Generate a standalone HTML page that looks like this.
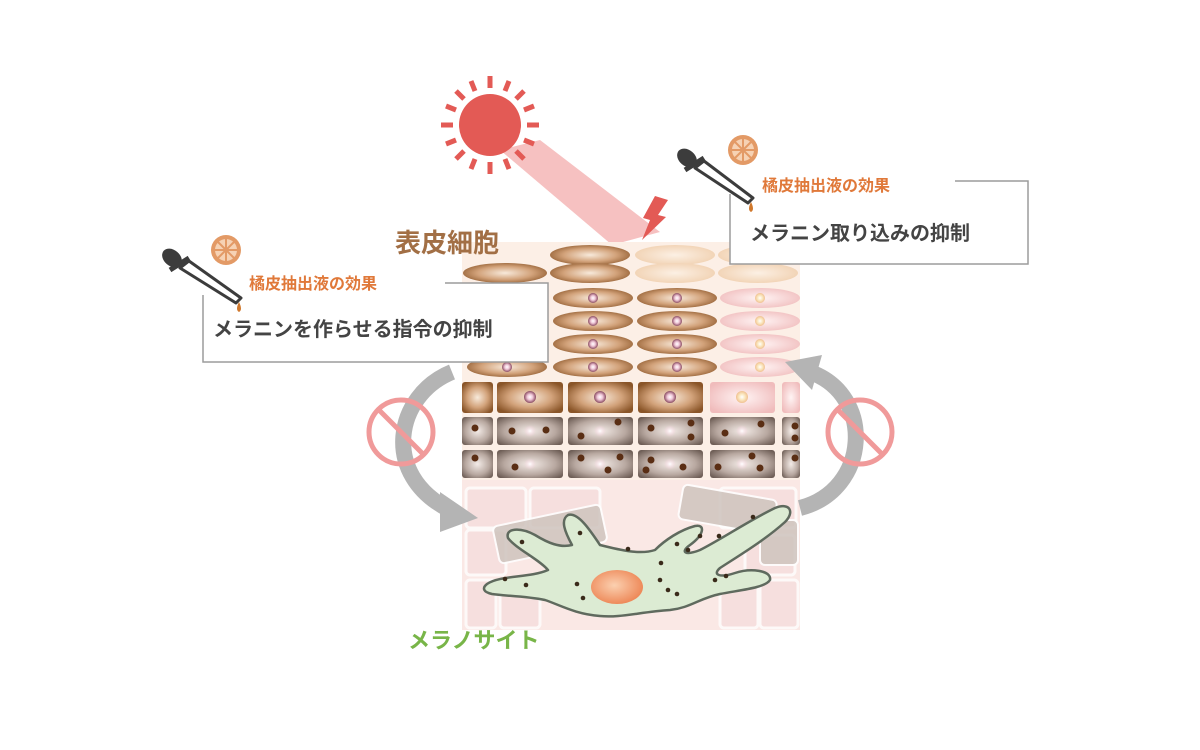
<!DOCTYPE html>
<html><head><meta charset="utf-8"><style>
html,body{margin:0;padding:0;background:#fff;}
svg{display:block;}
text{font-family:"Liberation Sans","Noto Sans CJK JP",sans-serif;font-weight:bold;}
</style></head><body>
<svg width="1200" height="750" viewBox="0 0 1200 750" xmlns="http://www.w3.org/2000/svg">
<defs>
<radialGradient id="br" cx="50%" cy="50%" r="60%"><stop offset="0" stop-color="#f8eadb"/><stop offset="0.55" stop-color="#d2a27a"/><stop offset="1" stop-color="#8a5528"/></radialGradient>
<radialGradient id="lt" cx="50%" cy="50%" r="60%"><stop offset="0" stop-color="#fcf0e4"/><stop offset="1" stop-color="#f0cfae"/></radialGradient>
<radialGradient id="pk" cx="50%" cy="50%" r="60%"><stop offset="0" stop-color="#fff4f4"/><stop offset="1" stop-color="#f0bcbc"/></radialGradient>
<radialGradient id="gr" cx="50%" cy="50%" r="65%"><stop offset="0" stop-color="#f4ece8"/><stop offset="0.6" stop-color="#b8a8a0"/><stop offset="1" stop-color="#6e5e56"/></radialGradient>
<radialGradient id="nu" cx="50%" cy="50%" r="50%"><stop offset="0" stop-color="#fff"/><stop offset="0.45" stop-color="#f0c8d8"/><stop offset="1" stop-color="#8a4a60"/></radialGradient>
<radialGradient id="nuy" cx="50%" cy="50%" r="50%"><stop offset="0" stop-color="#fff"/><stop offset="0.5" stop-color="#fbe8c0"/><stop offset="1" stop-color="#f0c090"/></radialGradient>
<radialGradient id="pd" cx="50%" cy="50%" r="50%"><stop offset="0" stop-color="#fff"/><stop offset="1" stop-color="#f6c8d8" stop-opacity="0"/></radialGradient>
<radialGradient id="on" cx="45%" cy="45%" r="55%"><stop offset="0" stop-color="#fbd0b0"/><stop offset="1" stop-color="#ee8a5a"/></radialGradient>
</defs>

<!-- sun -->
<g fill="#e35a55">
<polygon points="500,150 540,140 660,232 612,245" fill="#f4b6b6" opacity="0.85"/>
<circle cx="490" cy="125" r="31"/>
<g stroke="#e35a55" stroke-width="5">
<line x1="490" y1="76" x2="490" y2="88"/><line x1="490" y1="162" x2="490" y2="174"/>
<line x1="441" y1="125" x2="453" y2="125"/><line x1="527" y1="125" x2="539" y2="125"/>
<line x1="456" y1="91" x2="464" y2="99"/><line x1="516" y1="151" x2="524" y2="159"/>
<line x1="524" y1="91" x2="516" y2="99"/><line x1="464" y1="151" x2="456" y2="159"/>
<line x1="471" y1="81" x2="475" y2="91"/><line x1="509" y1="81" x2="505" y2="91"/>
<line x1="446" y1="106" x2="456" y2="110"/><line x1="534" y1="106" x2="524" y2="110"/>
<line x1="446" y1="144" x2="456" y2="140"/><line x1="534" y1="144" x2="524" y2="140"/>
<line x1="471" y1="169" x2="475" y2="159"/><line x1="509" y1="169" x2="505" y2="159"/>
</g>
<polygon points="655,196 668,200 658,215 666,217 642,240 650,220 643,218"/>
</g>

<!-- skin block -->
<rect x="462" y="242" width="338" height="388" fill="#fcefe6"/>
<rect x="462" y="480" width="338" height="150" fill="#f9e6e4" opacity="0.7"/>
<g fill="#f5dcdc" stroke="#fff" stroke-width="3" opacity="0.75">
<rect x="466" y="488" width="60" height="40" rx="4"/><rect x="530" y="488" width="70" height="40" rx="4"/>
<rect x="720" y="488" width="76" height="40" rx="4"/>
<rect x="466" y="530" width="40" height="45" rx="4"/>
<rect x="466" y="580" width="30" height="48" rx="4"/><rect x="500" y="585" width="40" height="43" rx="4"/>
<rect x="720" y="580" width="38" height="48" rx="4"/><rect x="760" y="580" width="38" height="48" rx="4"/>
<rect x="745" y="535" width="50" height="40" rx="4"/>
</g>
<g fill="#cfc4be" stroke="#fff" stroke-width="2" opacity="0.85">
<rect x="495" y="515" width="110" height="38" rx="5" transform="rotate(-12 550 534)"/>
<rect x="680" y="492" width="95" height="35" rx="5" transform="rotate(10 727 510)"/>
<rect x="760" y="520" width="38" height="45" rx="5"/>
</g>

<!-- top flat rows -->
<ellipse cx="590" cy="255" rx="40" ry="10" fill="url(#br)"/>
<ellipse cx="675" cy="255" rx="40" ry="10" fill="url(#lt)"/>
<ellipse cx="758" cy="255" rx="40" ry="10" fill="url(#lt)"/>
<ellipse cx="505" cy="273" rx="42" ry="10" fill="url(#br)"/>
<ellipse cx="590" cy="273" rx="40" ry="10" fill="url(#br)"/>
<ellipse cx="675" cy="273" rx="40" ry="10" fill="url(#lt)"/>
<ellipse cx="758" cy="273" rx="40" ry="10" fill="url(#lt)"/>
<g>
<ellipse cx="507" cy="298" rx="40" ry="10" fill="url(#br)"/><ellipse cx="593" cy="298" rx="40" ry="10" fill="url(#br)"/><ellipse cx="677" cy="298" rx="40" ry="10" fill="url(#br)"/><ellipse cx="760" cy="298" rx="40" ry="10" fill="url(#pk)"/>
<ellipse cx="507" cy="321" rx="40" ry="10" fill="url(#br)"/><ellipse cx="593" cy="321" rx="40" ry="10" fill="url(#br)"/><ellipse cx="677" cy="321" rx="40" ry="10" fill="url(#br)"/><ellipse cx="760" cy="321" rx="40" ry="10" fill="url(#pk)"/>
<ellipse cx="507" cy="344" rx="40" ry="10" fill="url(#br)"/><ellipse cx="593" cy="344" rx="40" ry="10" fill="url(#br)"/><ellipse cx="677" cy="344" rx="40" ry="10" fill="url(#br)"/><ellipse cx="760" cy="344" rx="40" ry="10" fill="url(#pk)"/>
<ellipse cx="507" cy="367" rx="40" ry="10" fill="url(#br)"/><ellipse cx="593" cy="367" rx="40" ry="10" fill="url(#br)"/><ellipse cx="677" cy="367" rx="40" ry="10" fill="url(#br)"/><ellipse cx="760" cy="367" rx="40" ry="10" fill="url(#pk)"/>
</g>
<g fill="url(#nu)">
<circle cx="593" cy="298" r="5"/><circle cx="677" cy="298" r="5"/><circle cx="593" cy="321" r="5"/><circle cx="677" cy="321" r="5"/>
<circle cx="593" cy="344" r="5"/><circle cx="677" cy="344" r="5"/><circle cx="507" cy="367" r="5"/><circle cx="593" cy="367" r="5"/><circle cx="677" cy="367" r="5"/>
</g>
<g fill="url(#nuy)"><circle cx="760" cy="298" r="5"/><circle cx="760" cy="321" r="5"/><circle cx="760" cy="344" r="5"/><circle cx="760" cy="367" r="5"/></g>
<g>
<rect x="462" y="382" width="31" height="31" rx="3" fill="url(#br)"/>
<rect x="497" y="382" width="66" height="31" rx="3" fill="url(#br)"/>
<rect x="568" y="382" width="65" height="31" rx="3" fill="url(#br)"/>
<rect x="638" y="382" width="65" height="31" rx="3" fill="url(#br)"/>
<rect x="710" y="382" width="65" height="31" rx="3" fill="url(#pk)"/>
<rect x="782" y="382" width="18" height="31" rx="3" fill="url(#pk)"/>
<circle cx="530" cy="397" r="6" fill="url(#nu)"/><circle cx="600" cy="397" r="6" fill="url(#nu)"/><circle cx="670" cy="397" r="6" fill="url(#nu)"/><circle cx="742" cy="397" r="6" fill="url(#nuy)"/>
</g>
<g fill="url(#gr)">
<rect x="462" y="417" width="31" height="28" rx="3"/><rect x="497" y="417" width="66" height="28" rx="3"/><rect x="568" y="417" width="65" height="28" rx="3"/><rect x="638" y="417" width="65" height="28" rx="3"/><rect x="710" y="417" width="65" height="28" rx="3"/><rect x="782" y="417" width="18" height="28" rx="3"/>
<rect x="462" y="450" width="31" height="28" rx="3"/><rect x="497" y="450" width="66" height="28" rx="3"/><rect x="568" y="450" width="65" height="28" rx="3"/><rect x="638" y="450" width="65" height="28" rx="3"/><rect x="710" y="450" width="65" height="28" rx="3"/><rect x="782" y="450" width="18" height="28" rx="3"/>
</g>
<g fill="url(#pd)">
<circle cx="530" cy="431" r="6"/><circle cx="600" cy="431" r="6"/><circle cx="670" cy="431" r="6"/><circle cx="742" cy="431" r="6"/>
<circle cx="530" cy="464" r="6"/><circle cx="600" cy="464" r="6"/><circle cx="670" cy="464" r="6"/><circle cx="742" cy="464" r="6"/>
</g>
<g fill="#5a2e14">
<circle cx="475" cy="428" r="3.5"/><circle cx="512" cy="431" r="3.5"/><circle cx="546" cy="430" r="3.5"/><circle cx="581" cy="436" r="3.5"/><circle cx="618" cy="422" r="3.5"/><circle cx="651" cy="428" r="3.5"/><circle cx="691" cy="423" r="3.5"/><circle cx="691" cy="437" r="3.5"/><circle cx="725" cy="433" r="3.5"/><circle cx="761" cy="424" r="3.5"/><circle cx="795" cy="426" r="3.5"/><circle cx="795" cy="438" r="3.5"/>
<circle cx="475" cy="458" r="3.5"/><circle cx="515" cy="467" r="3.5"/><circle cx="581" cy="458" r="3.5"/><circle cx="608" cy="470" r="3.5"/><circle cx="620" cy="457" r="3.5"/><circle cx="651" cy="460" r="3.5"/><circle cx="646" cy="470" r="3.5"/><circle cx="683" cy="467" r="3.5"/><circle cx="718" cy="467" r="3.5"/><circle cx="752" cy="456" r="3.5"/><circle cx="760" cy="468" r="3.5"/><circle cx="795" cy="458" r="3.5"/>
</g>

<!-- melanocyte -->
<path d="M487,584 C500,575 530,578 548,570 C540,560 515,548 508,538 C505,528 520,527 535,535 C548,543 560,548 572,545 C565,532 560,520 568,515 C578,512 590,530 600,545 C620,550 640,555 655,550 C665,540 680,530 695,526 C705,524 705,534 690,545 C680,552 685,556 700,550 C720,540 750,520 775,508 C790,502 795,512 785,522 C765,540 740,555 720,568 C712,575 720,578 735,573 C750,568 772,570 770,580 C765,588 740,590 720,594 C700,598 690,608 670,610 C640,612 620,618 600,616 C575,614 560,605 545,600 C525,596 505,596 492,594 C483,592 482,588 487,584 Z" fill="#dcebd3" stroke="#5f6a5e" stroke-width="2.5" stroke-linejoin="round"/>
<ellipse cx="617" cy="587" rx="26" ry="17" fill="url(#on)"/>
<g fill="#3a2a1a">
<circle cx="505" cy="579" r="2.3"/><circle cx="526" cy="585" r="2.3"/><circle cx="522" cy="542" r="2.3"/><circle cx="580" cy="533" r="2.3"/>
<circle cx="577" cy="584" r="2.3"/><circle cx="583" cy="598" r="2.3"/><circle cx="660" cy="580" r="2.3"/><circle cx="668" cy="590" r="2.3"/><circle cx="677" cy="594" r="2.3"/>
<circle cx="628" cy="549" r="2.3"/><circle cx="661" cy="563" r="2.3"/><circle cx="677" cy="544" r="2.3"/><circle cx="688" cy="550" r="2.3"/><circle cx="700" cy="536" r="2.3"/><circle cx="719" cy="536" r="2.3"/>
<circle cx="715" cy="580" r="2.3"/><circle cx="726" cy="576" r="2.3"/><circle cx="753" cy="517" r="2.3"/>
</g>

<!-- gray arrows -->
<path d="M452,372 C395,395 380,475 450,510" fill="none" stroke="#b4b4b4" stroke-width="16"/>
<polygon points="440,492 478,518 440,532" fill="#b4b4b4"/>
<path d="M800,508 C870,490 875,395 810,372" fill="none" stroke="#b4b4b4" stroke-width="16"/>
<polygon points="785,362 822,355 812,390" fill="#b4b4b4"/>
<g fill="none" stroke="#f09a9a" stroke-width="5">
<circle cx="401" cy="432" r="32"/><line x1="379" y1="410" x2="423" y2="454"/>
<circle cx="860" cy="432" r="32"/><line x1="838" y1="410" x2="882" y2="454"/>
</g>

<text x="395" y="252" font-size="26" fill="#a26f45">表皮細胞</text>

<rect x="203" y="283" width="345" height="79" fill="#fff" stroke="#9c9c9c" stroke-width="1.5"/>
<rect x="200" y="270" width="245" height="25" fill="#fff"/>
<text x="213" y="336" font-size="20" fill="#444">メラニンを作らせる指令の抑制</text>
<text x="249" y="289" font-size="16" fill="#e0793a">橘皮抽出液の効果</text>
<rect x="730" y="181" width="298" height="83" fill="#fff" stroke="#9c9c9c" stroke-width="1.5"/>
<rect x="727" y="170" width="228" height="24" fill="#fff"/>
<text x="750" y="240" font-size="20" fill="#444">メラニン取り込みの抑制</text>
<text x="762" y="191" font-size="16" fill="#e0793a">橘皮抽出液の効果</text>

<g>
<circle cx="226" cy="250" r="15" fill="#e39a66"/><circle cx="226" cy="250" r="11" fill="#f6d2b4"/>
<g stroke="#e39a66" stroke-width="2"><line x1="215" y1="250" x2="237" y2="250"/><line x1="226" y1="239" x2="226" y2="261"/><line x1="218" y1="242" x2="234" y2="258"/><line x1="234" y1="242" x2="218" y2="258"/></g>
<circle cx="743" cy="150" r="15" fill="#e39a66"/><circle cx="743" cy="150" r="11" fill="#f6d2b4"/>
<g stroke="#e39a66" stroke-width="2"><line x1="732" y1="150" x2="754" y2="150"/><line x1="743" y1="139" x2="743" y2="161"/><line x1="735" y1="142" x2="751" y2="158"/><line x1="751" y1="142" x2="735" y2="158"/></g>
</g>
<g>
<ellipse cx="172" cy="258" rx="11" ry="8" fill="#3c3c3c" transform="rotate(40 172 258)"/>
<line x1="170" y1="270" x2="189" y2="258" stroke="#3c3c3c" stroke-width="5"/>
<polygon points="180,268 189,261 241,298 236,303" fill="#fff" stroke="#3c3c3c" stroke-width="3" stroke-linejoin="round"/>
<path d="M239,302 q-4,8 0,10 q4,-2 0,-10z" fill="#d0782c"/>
<ellipse cx="687" cy="158" rx="11" ry="8" fill="#3c3c3c" transform="rotate(40 687 158)"/>
<line x1="685" y1="170" x2="704" y2="158" stroke="#3c3c3c" stroke-width="5"/>
<polygon points="695,168 704,161 753,198 748,203" fill="#fff" stroke="#3c3c3c" stroke-width="3" stroke-linejoin="round"/>
<path d="M751,202 q-4,8 0,10 q4,-2 0,-10z" fill="#d0782c"/>
</g>

<text x="408" y="648" font-size="22" fill="#78b548">メラノサイト</text>
</svg>
</body></html>
